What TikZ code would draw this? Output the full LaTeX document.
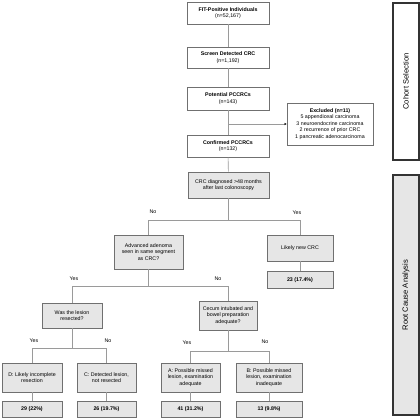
\documentclass[tikz,border=0pt]{standalone}
\usepackage{fontspec}
\setmainfont{Liberation Sans}
\usetikzlibrary{arrows.meta}
\definecolor{boxline}{HTML}{707070}
\definecolor{conn}{HTML}{9A9A9A}
\definecolor{boxfill}{HTML}{E6E6E6}
\definecolor{sideline}{HTML}{333333}
\begin{document}
\begin{tikzpicture}[x=1pt,y=-1pt,
  box/.style={draw=boxline, line width=0.6pt, fill=white, align=center, inner sep=1pt,
    font=\fontsize{5.3}{6.4}\selectfont},
  gbox/.style={box, fill=boxfill},
  conline/.style={draw=conn, line width=0.6pt},
  lab/.style={font=\fontsize{5.3}{6}\selectfont, inner sep=0pt},
  side/.style={draw=sideline, line width=1.1pt, inner sep=0pt, font=\fontsize{7.6}{8}\selectfont}]
\useasboundingbox (0,0) rectangle (420,420);
% cohort selection boxes
\node[box, minimum width=82pt, minimum height=22pt] (fit) at (228,13) {\textbf{FIT-Positive Individuals}\\(n=52,167)};
\node[box, minimum width=82pt, minimum height=21pt] (scr) at (228,57.5) {\textbf{Screen Detected CRC}\\(n=1,192)};
\node[box, minimum width=82pt, minimum height=23pt] (pot) at (228,98.5) {\textbf{Potential PCCRCs}\\(n=143)};
\node[box, minimum width=82pt, minimum height=22pt] (conf) at (228,146) {\textbf{Confirmed PCCRCs}\\(n=132)};
\node[box, minimum width=86pt, minimum height=42pt] (excl) at (330,124) {\textbf{Excluded (n=11)}\\5 appendiceal carcinoma\\3 neuroendocrine carcinoma\\2 recurrence of prior CRC\\1 pancreatic adenocarcinoma};
% root cause analysis boxes
\node[gbox, minimum width=81pt, minimum height=26pt] (crc) at (228.5,185) {CRC diagnosed >48 months\\after last colonoscopy};
\node[gbox, minimum width=69pt, minimum height=34pt] (adv) at (148.5,252) {Advanced adenoma\\seen in same segment\\as CRC?};
\node[gbox, minimum width=66pt, minimum height=26pt] (new) at (300,248) {Likely new CRC};
\node[gbox, minimum width=66pt, minimum height=17pt] (r23) at (300,280) {\textbf{23 (17.4\%)}};
\node[gbox, minimum width=60pt, minimum height=25pt] (was) at (72,315.5) {Was the lesion\\resected?};
\node[gbox, minimum width=58pt, minimum height=29pt] (cec) at (228,315.5) {Cecum intubated and\\bowel preparation\\adequate?};
\node[gbox, minimum width=60pt, minimum height=29pt] (d) at (32,377.5) {D: Likely incomplete\\resection};
\node[gbox, minimum width=59pt, minimum height=29pt] (c) at (106.5,377.5) {C: Detected lesion,\\not resected};
\node[gbox, minimum width=59pt, minimum height=29pt] (a) at (190.5,377.5) {A: Possible missed\\lesion, examination\\adequate};
\node[gbox, minimum width=66pt, minimum height=29pt] (b) at (269,377.5) {B: Possible missed\\lesion, examination\\inadequate};
\node[gbox, minimum width=60pt, minimum height=16pt] (r29) at (32,409) {\textbf{29 (22\%)}};
\node[gbox, minimum width=59pt, minimum height=16pt] (r26) at (106.5,409) {\textbf{26 (19.7\%)}};
\node[gbox, minimum width=59pt, minimum height=16pt] (r41) at (190.5,409) {\textbf{41 (31.2\%)}};
\node[gbox, minimum width=66pt, minimum height=16pt] (r13) at (269,409) {\textbf{13 (9.8\%)}};
% side boxes
\node[side, fill=white, minimum width=26pt, minimum height=157pt] (cohort) at (406,81.5) {\rotatebox{90}{Cohort Selection}};
\node[side, fill=boxfill, minimum width=26pt, minimum height=240pt] (rca) at (406,295) {\rotatebox{90}{Root Cause Analysis}};
% connectors
\draw[conline] (fit) -- (scr);
\draw[conline] (scr) -- (pot);
\draw[conline] (pot) -- (conf);
\draw[conline] (conf) -- (crc);
\coordinate (ex) at (228,124);
\draw[conline, -{Stealth[black,length=2.5pt,width=2.2pt]}] (ex) -- (excl.west);
\draw[conline] (crc.south) -- ++(0,22) coordinate (j1);
\draw[conline] (adv.north) |- (j1) -| (new.north);
\draw[conline] (new) -- (r23);
\draw[conline] (adv.south) -- ++(0,17) coordinate (j2);
\draw[conline] (was.north) |- (j2) -| (cec.north);
\draw[conline] (was.south) -- ++(0,20) coordinate (j3);
\draw[conline] (d.north) |- (j3) -| (c.north);
\draw[conline] (cec.south) -- ++(0,21) coordinate (j4);
\draw[conline] (a.north) |- (j4) -| (b.north);
\draw[conline] (d) -- (r29);
\draw[conline] (c) -- (r26);
\draw[conline] (a) -- (r41);
\draw[conline] (b) -- (r13);
% labels
\node[lab] (l1) at (153,212) {No};
\node[lab] (l2) at (297,213) {Yes};
\node[lab] (l3) at (74,279) {Yes};
\node[lab] (l4) at (218,279) {No};
\node[lab] (l5) at (34,341) {Yes};
\node[lab] (l6) at (108,341) {No};
\node[lab] (l7) at (187,343) {Yes};
\node[lab] (l8) at (265,342) {No};
\end{tikzpicture}
\end{document}
